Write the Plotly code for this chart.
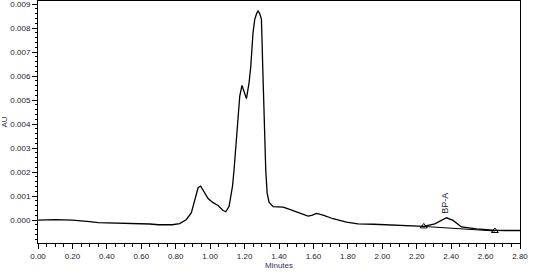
import plotly.graph_objects as go

# Chromatogram trace (minutes, AU)
time_min = [0.00, 0.10, 0.20, 0.25, 0.30, 0.35, 0.45, 0.55, 0.65, 0.70, 0.78, 0.823,
            0.862, 0.891, 0.911, 0.930, 0.945, 0.963, 0.988, 1.017, 1.046, 1.075, 1.091,
            1.110, 1.130, 1.139, 1.149, 1.162, 1.172, 1.185, 1.198, 1.211, 1.226, 1.236,
            1.249, 1.259, 1.270, 1.278, 1.288, 1.298, 1.307, 1.314, 1.323, 1.331,
            1.342, 1.366, 1.424, 1.462, 1.501, 1.540, 1.569, 1.590, 1.618, 1.656, 1.714,
            1.792, 1.859, 1.95, 2.05, 2.16, 2.24, 2.305, 2.34, 2.373, 2.411, 2.46, 2.547,
            2.644, 2.72, 2.80]
absorbance = [0.00000, 0.00002, 0.00000, -0.00002, -0.00006, -0.00010, -0.00011, -0.00014,
              -0.00016, -0.00019, -0.00019, -0.00014,
              0.00003, 0.00031, 0.00086, 0.00135, 0.00142, 0.00121, 0.00090, 0.00073,
              0.00061, 0.00040, 0.00035,
              0.00058, 0.00142, 0.00210, 0.00310, 0.00420, 0.00517, 0.00561, 0.00535,
              0.00506, 0.00572, 0.00640,
              0.00780, 0.00836, 0.00860, 0.00871, 0.00860, 0.00836, 0.00600, 0.00400,
              0.00210, 0.00114,
              0.00075, 0.00056, 0.00054, 0.00045, 0.00035, 0.00027, 0.00017, 0.00020,
              0.00028, 0.00021, 0.00006,
              -0.00008, -0.00015, -0.00017, -0.00020, -0.00026, -0.00026, -0.00015,
              -0.00002, 0.00010, -0.00001, -0.00028, -0.00036,
              -0.00042, -0.00043, -0.00043]

# Integration baseline for peak BP-A
base_time = [2.241, 2.654]
base_au = [-0.00026, -0.00045]
peak_name = "BP-A"
peak_time = 2.363
peak_label_au = 0.00072

x_ticks = [0.0, 0.2, 0.4, 0.6, 0.8, 1.0, 1.2, 1.4, 1.6, 1.8, 2.0, 2.2, 2.4, 2.6, 2.8]
y_ticks = [0.000, 0.001, 0.002, 0.003, 0.004, 0.005, 0.006, 0.007, 0.008, 0.009]

fig = go.Figure()
fig.add_trace(go.Scatter(x=time_min, y=absorbance, mode="lines",
                         line=dict(color="black", width=1.3), showlegend=False,
                         hoverinfo="skip"))
fig.add_trace(go.Scatter(x=base_time, y=base_au, mode="lines+markers",
                         line=dict(color="black", width=1),
                         marker=dict(symbol="triangle-up-open", size=6, color="black",
                                     line=dict(width=1)),
                         showlegend=False, hoverinfo="skip"))

fig.add_annotation(x=peak_time, y=peak_label_au, text=peak_name, textangle=-90,
                   showarrow=False, font=dict(family="Liberation Sans", size=9, color="#222"))

axis_font = dict(family="Liberation Sans", size=8, color="#1a1a2e")
fig.update_xaxes(range=[0, 2.8], tickvals=x_ticks,
                 ticktext=[f"{v:.2f}" for v in x_ticks],
                 showgrid=False, zeroline=False, showline=True, linecolor="black",
                 linewidth=1, mirror=True, ticks="outside", ticklen=5, tickcolor="black",
                 tickfont=axis_font, ticklabeloverflow="allow",
                 minor=dict(dtick=0.05, ticks="outside", ticklen=3, tickcolor="black",
                            showgrid=False),
                 title=dict(text="Minutes", font=dict(family="Liberation Sans", size=8,
                                                      color="#333355"), standoff=2))
fig.update_yaxes(range=[-0.00095, 0.009125], tickvals=y_ticks,
                 ticktext=[f"{v:.3f}" for v in y_ticks],
                 showgrid=False, zeroline=False, showline=True, linecolor="black",
                 linewidth=1, mirror=True, ticks="outside", ticklen=5, tickcolor="black",
                 tickfont=axis_font, ticklabeloverflow="allow",
                 minor=dict(dtick=0.0002, ticks="outside", ticklen=2, tickcolor="black",
                            showgrid=False),
                 title=dict(text="AU", font=dict(family="Liberation Sans", size=8,
                                                 color="#333355"), standoff=4))

fig.update_layout(width=533, height=273, margin=dict(l=38, r=13, t=1, b=30),
                  plot_bgcolor="white", paper_bgcolor="white")

fig.write_html("out.html")
